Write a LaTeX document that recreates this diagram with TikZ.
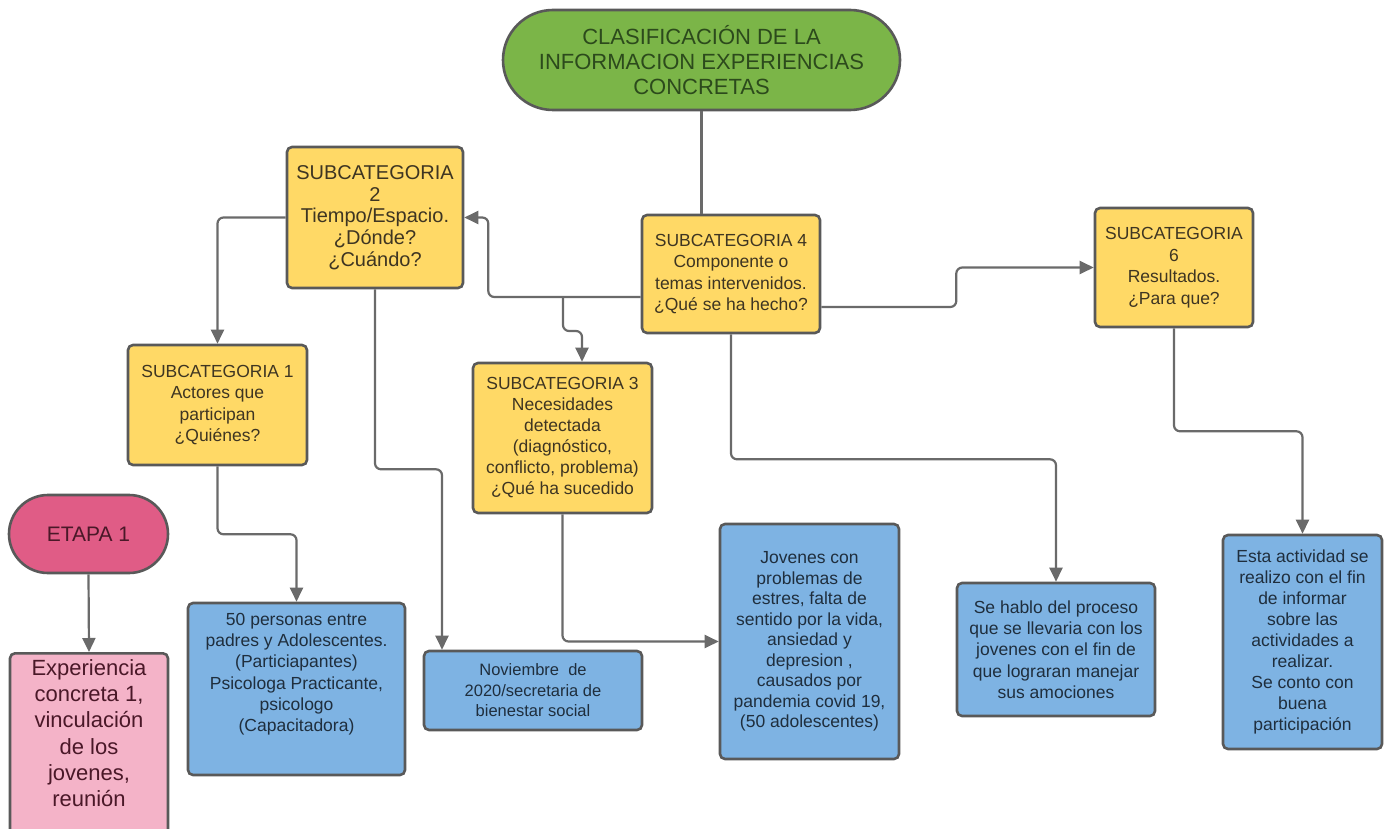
\documentclass[tikz,border=0pt]{standalone}
\usepackage{fontspec}
\setmainfont{Liberation Sans}
\usetikzlibrary{arrows.meta,calc}

\definecolor{yelfill}{HTML}{FFD966}
\definecolor{bluefill}{HTML}{7EB3E3}
\definecolor{greenfill}{HTML}{7BB548}
\definecolor{rosefill}{HTML}{E05C86}
\definecolor{pinkfill}{HTML}{F4B3C8}
\definecolor{edge}{HTML}{595959}
\definecolor{wire}{HTML}{6A6A6A}
\definecolor{yeltext}{HTML}{3E3522}
\definecolor{bluetext}{HTML}{1F2E3D}
\definecolor{greentext}{HTML}{2C4A1C}
\definecolor{rosetext}{HTML}{4A1828}

\tikzset{
  boxbase/.style={draw=edge, line width=2.6pt, rounded corners=5pt, align=center, inner sep=0pt},
  subbox/.style={boxbase, fill=yelfill, text=yeltext, font=\fontsize{17.5}{21.5}\selectfont},
  infobox/.style={boxbase, fill=bluefill, text=bluetext, font=\fontsize{17.5}{21.3}\selectfont},
  conn/.style={draw=wire, line width=2.2pt, rounded corners=6pt},
  arr/.style={conn, -{Triangle[length=14pt,width=13pt]}},
}

\begin{document}
\begin{tikzpicture}[x=1pt, y=-1pt]
\useasboundingbox (0,0) rectangle (1388,829);

% main title
\node (title) [draw=edge, line width=2.6pt, fill=greenfill, text=greentext,
  rounded corners=50pt, minimum width=397pt, minimum height=100pt, inner sep=0pt,
  align=center, font=\fontsize{22}{25}\selectfont] at (701.5,60)
  {CLASIFICACIÓN DE LA\\INFORMACION EXPERIENCIAS\\CONCRETAS};

% subcategories
\node (s2) [subbox, minimum width=176pt, minimum height=141pt,
  font=\fontsize{20}{21.7}\selectfont] at (375,217.5)
  {SUBCATEGORIA\\2\\Tiempo/Espacio.\\¿Dónde?\\¿Cuándo?};
\node (s4) [subbox, minimum width=178pt, minimum height=118pt] at (731,274)
  {SUBCATEGORIA 4\\Componente o\\temas intervenidos.\\¿Qué se ha hecho?};
\node (s6) [subbox, minimum width=158pt, minimum height=119pt] at (1174,267.5)
  {SUBCATEGORIA\\6\\Resultados.\\¿Para que?};
\node (s1) [subbox, minimum width=179pt, minimum height=120pt] at (217.5,405)
  {SUBCATEGORIA 1\\Actores que\\participan\\¿Quiénes?};
\node (s3) [subbox, minimum width=179pt, minimum height=150pt,
  font=\fontsize{17.5}{21}\selectfont] at (562.5,438)
  {SUBCATEGORIA 3\\Necesidades\\detectada\\(diagnóstico,\\conflicto, problema)\\¿Qué ha sucedido};

% stage
\node (etapa) [draw=edge, line width=2.6pt, fill=rosefill, text=rosetext,
  rounded corners=39pt, minimum width=159pt, minimum height=78pt, inner sep=0pt,
  font=\fontsize{21}{24}\selectfont] at (88.5,534) {ETAPA 1};
\node (exp) [draw=edge, line width=2.6pt, fill=pinkfill, text=rosetext,
  rounded corners=5pt, inner sep=0pt, anchor=north,
  font=\fontsize{22}{26.3}\selectfont] at (89,652)
  {\parbox[c][200pt][t]{158pt}{\centering\vspace*{6pt}Experiencia\\concreta 1,\\vinculación\\de los\\jovenes,\\reunión}};

% information boxes
\node (b1) [infobox, minimum width=217pt, minimum height=172pt] at (296.5,689)
  {50 personas entre\\padres y Adolescentes.\\(Particiapantes)\\Psicologa Practicante,\\psicologo\\(Capacitadora)\\[12pt]};
\node (nov) [infobox, minimum width=218pt, minimum height=79pt, font=\fontsize{16.5}{20.5}\selectfont] at (533,690.5)
  {Noviembre\ \ de\\2020/secretaria de\\bienestar social};
\node (jov) [infobox, minimum width=179pt, minimum height=235pt, font=\fontsize{17.5}{20.5}\selectfont] at (809.5,641.5)
  {Jovenes con\\problemas de\\estres, falta de\\sentido por la vida,\\ansiedad y\\depresion ,\\causados por\\pandemia covid 19,\\(50 adolescentes)};
\node (hab) [infobox, minimum width=198pt, minimum height=133pt] at (1056,649.5)
  {Se hablo del proceso\\que se llevaria con los\\jovenes con el fin de\\que lograran manejar\\sus amociones};
\node (esta) [infobox, minimum width=159pt, minimum height=214pt, font=\fontsize{17.5}{21}\selectfont] at (1302.5,642)
  {Esta actividad se\\realizo con el fin\\de informar\\sobre las\\actividades a\\realizar.\\Se conto con\\buena\\participación};

% connectors
\draw[conn] (title.south) -- (title.south |- s4.north);
\coordinate (split) at (563,297);
\draw[arr] ([yshift=-23pt]s4.west) -| ([xshift=24pt]s2.east) -- (s2.east);
\draw[arr] (split) -- ++(0,34) -| ([xshift=19.5pt]s3.north);
\draw[arr] (s2.west) -| (s1.north);
\draw[arr] (s1.south) -- ++(0,68) -| (b1.north);
\draw[arr] (s2.south) -- ++(0,180) -| ([xshift=-91pt]nov.north);
\draw[arr] (s3.south) |- (jov.west);
\draw[arr] (s4.south) -- ++(0,125) -| (hab.north);
\draw[arr] ([yshift=-33pt]s4.east) -- ++(135,0) |- (s6.west);
\draw[arr] (s6.south) -- ++(0,103) -| (esta.north);
\draw[arr] (etapa.south) -- (exp.north);
\end{tikzpicture}
\end{document}
